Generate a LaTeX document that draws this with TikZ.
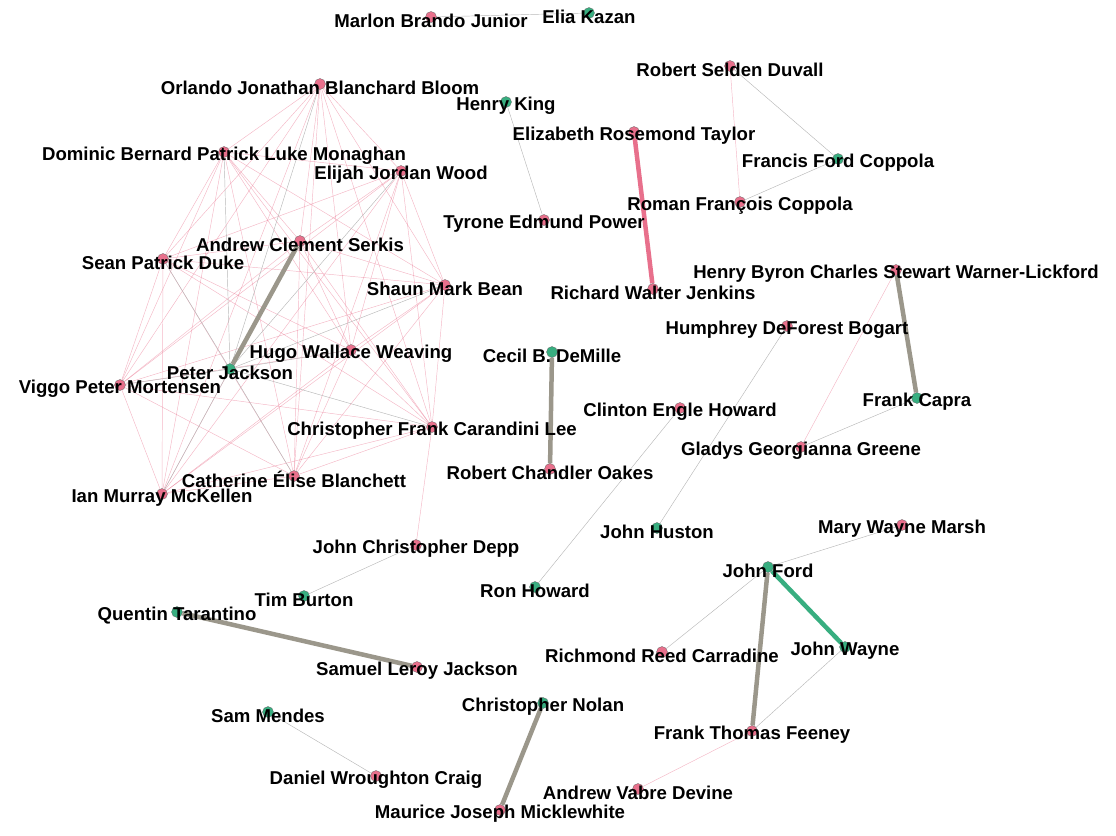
\documentclass[tikz,border=0pt]{standalone}
\usepackage{fontspec}
\setmainfont{Liberation Sans}
\usetikzlibrary{positioning}
\definecolor{rosa}{RGB}{232,112,140}
\definecolor{jade}{RGB}{56,174,128}
\definecolor{stone}{RGB}{155,151,139}
\pgfdeclarelayer{bg}
\pgfsetlayers{bg,main}

% id / x / y / kind / name
\def\people{%
  brando/431/17/actor/Marlon Brando Junior,
  kazan/589/13/dir/Elia Kazan,
  bloom/320/84/actor/Orlando Jonathan Blanchard Bloom,
  king/506/102/dir/Henry King,
  duvall/730/66/actor/Robert Selden Duvall,
  taylor/634/132/actor/Elizabeth Rosemond Taylor,
  fcoppola/838/159/dir/Francis Ford Coppola,
  monaghan/224/152/actor/Dominic Bernard Patrick Luke Monaghan,
  wood/401/171/actor/Elijah Jordan Wood,
  power/544/220/actor/Tyrone Edmund Power,
  rcoppola/740/202/actor/Roman François Coppola,
  serkis/300/241/actor/Andrew Clement Serkis,
  astin/163/259/actor/Sean Patrick Duke,
  bean/445/285/actor/Shaun Mark Bean,
  stewart/896/270/actor/Henry Byron Charles Stewart Warner-Lickford,
  burton/653/289/actor/Richard Walter Jenkins,
  bogart/787/326/actor/Humphrey DeForest Bogart,
  demille/552/352/dir/Cecil B. DeMille,
  weaving/351/350/actor/Hugo Wallace Weaving,
  pj/230/369/dir/Peter Jackson,
  mortensen/120/385/actor/Viggo Peter Mortensen,
  capra/917/398/dir/Frank Capra,
  choward/680/408/actor/Clinton Engle Howard,
  lee/432/427/actor/Christopher Frank Carandini Lee,
  greene/801/447/actor/Gladys Georgianna Greene,
  oakes/550/469/actor/Robert Chandler Oakes,
  blanchett/294/476/actor/Catherine Élise Blanchett,
  mckellen/162/494/actor/Ian Murray McKellen,
  huston/657/528/dir/John Huston,
  marsh/902/525/actor/Mary Wayne Marsh,
  depp/416/545/actor/John Christopher Depp,
  ford/768/567/dir/John Ford,
  rhoward/535/587/dir/Ron Howard,
  tburton/304/596/dir/Tim Burton,
  tarantino/177/612/dir/Quentin Tarantino,
  wayne/845/647/dir/John Wayne,
  carradine/662/652/actor/Richmond Reed Carradine,
  sljackson/417/667/actor/Samuel Leroy Jackson,
  nolan/543/703/dir/Christopher Nolan,
  mendes/268/712/dir/Sam Mendes,
  feeney/752/731/actor/Frank Thomas Feeney,
  craig/376/776/actor/Daniel Wroughton Craig,
  devine/638/789/actor/Andrew Vabre Devine,
  caine/500/810/actor/Maurice Joseph Micklewhite%
}
\def\ring{bloom,monaghan,wood,serkis,astin,bean,weaving,mortensen,lee,blanchett,mckellen}

\begin{document}
\begin{tikzpicture}[
    x=1pt, y=-1pt,
    actor/.style={circle, draw=black!60, line width=0.3pt, fill=rosa, inner sep=0pt, minimum size=11pt},
    dir/.style={actor, fill=jade},
    lbl/.style={font=\fontsize{18.6}{20}\selectfont\bfseries, inner sep=0pt, yshift=-3.5pt},
    tie/.style={rosa, opacity=0.5, line width=0.45pt},
    link/.style={black!28, line width=0.45pt},
    bond/.style={stone, line width=4.5pt}
  ]
    \useasboundingbox (0,0) rectangle (1116,835);

    \foreach \id/\px/\py/\kind/\txt in \people
      \node[\kind] (\id) at (\px,\py) {};

    \begin{pgfonlayer}{bg}
      % cast of the ring, every pair
      \foreach \a [count=\i] in \ring {
        \foreach \b [count=\j] in \ring {
          \ifnum\j>\i \draw[tie] (\a) -- (\b); \fi
        }
      }
      \foreach \a in \ring
        \draw[link] (pj) -- (\a);

      \foreach \a/\b in {duvall/rcoppola, stewart/greene, lee/depp, feeney/devine}
        \draw[tie] (\a) -- (\b);
      \foreach \a/\b in {brando/kazan, king/power, duvall/fcoppola, fcoppola/rcoppola,
          capra/greene, bogart/huston, choward/rhoward, depp/tburton, mendes/craig,
          ford/marsh, ford/carradine, wayne/feeney}
        \draw[link] (\a) -- (\b);

      \foreach \a/\b in {pj/serkis, stewart/capra, demille/oakes, tarantino/sljackson,
          nolan/caine, ford/feeney}
        \draw[bond] (\a) -- (\b);
      \draw[bond, rosa] (taylor) -- (burton);
      \draw[bond, jade] (ford) -- (wayne);
    \end{pgfonlayer}

    \foreach \id/\px/\py/\kind/\txt in \people
      \node[lbl] at (\id) {\txt};
\end{tikzpicture}
\end{document}
